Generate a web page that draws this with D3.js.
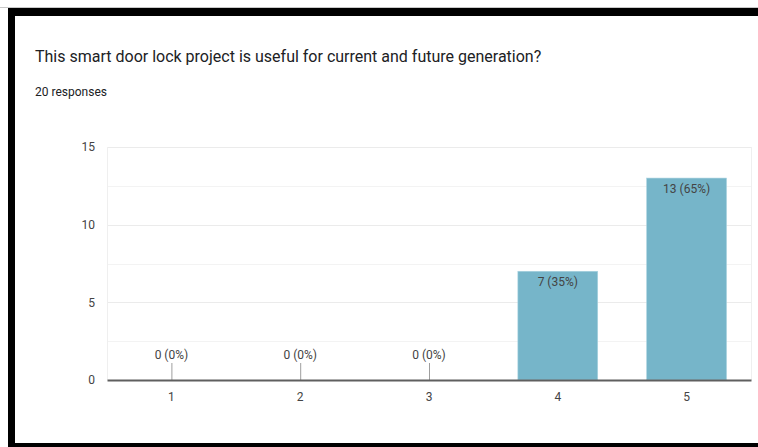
<!DOCTYPE html>
<html>
<head>
<meta charset="utf-8">
<script src="https://cdn.jsdelivr.net/npm/d3@7"></script>
<style>
  html, body { margin: 0; padding: 0; background: #fff; }
  svg { display: block; }
</style>
</head>
<body>
<svg id="chart" width="758" height="447"></svg>
<script>
// Survey answers on a 1–5 scale
const categories = ["1", "2", "3", "4", "5"];
const counts = [0, 0, 0, 7, 13];
const totalResponses = 20;
const yTicks = [0, 5, 10, 15];
const gridTicks = [0, 2.5, 5, 7.5, 10, 12.5, 15];

const title = "This smart door lock project is useful for current and future generation?";
const subtitle = totalResponses + " responses";

const svg = d3.select("#chart");
const W = 758, H = 447;
const font = "Roboto, 'Noto Sans', Arial, sans-serif";

svg.append("rect").attr("width", W).attr("height", H).attr("fill", "#fff");

// frame around the card
svg.append("rect").attr("x", 0).attr("y", 7).attr("width", W).attr("height", 1).attr("fill", "#c8c8c8");
svg.append("rect").attr("x", 8).attr("y", 8).attr("width", W - 8).attr("height", 8).attr("fill", "#000");
svg.append("rect").attr("x", 8).attr("y", 8).attr("width", 7).attr("height", H - 8).attr("fill", "#000");
svg.append("rect").attr("x", 8).attr("y", 443).attr("width", W - 8).attr("height", 4).attr("fill", "#000");

// header text
svg.append("text")
  .attr("x", 35).attr("y", 62)
  .attr("font-family", font).attr("font-size", 16)
  .attr("fill", "#202124")
  .text(title);
svg.append("text")
  .attr("x", 35).attr("y", 96)
  .attr("font-family", font).attr("font-size", 12)
  .attr("fill", "#202124")
  .text(subtitle);

// plot area
const plot = { left: 107, right: 751, top: 147, bottom: 380 };

const x = d3.scaleBand()
  .domain(categories)
  .range([plot.left, plot.right])
  .paddingInner(0.38)
  .paddingOuter(0.19);

const y = d3.scaleLinear()
  .domain([0, 15])
  .range([plot.bottom, plot.top]);

// gridlines
svg.append("g").selectAll("line")
  .data(gridTicks.filter(d => d > 0))
  .join("line")
  .attr("x1", plot.left).attr("x2", plot.right)
  .attr("y1", d => Math.round(y(d)) + 0.5).attr("y2", d => Math.round(y(d)) + 0.5)
  .attr("stroke", d => (d % 5 === 0 ? "#ebebeb" : "#f3f3f3"))
  .attr("stroke-width", 1);

// side edges of the plot area
svg.append("g").selectAll("line")
  .data([plot.left, plot.right])
  .join("line")
  .attr("x1", d => d + 0.5).attr("x2", d => d + 0.5)
  .attr("y1", plot.top).attr("y2", plot.bottom)
  .attr("stroke", "#efefef");

// y-axis labels
const yAxis = d3.axisLeft(y).tickValues(yTicks).tickSize(0).tickPadding(12);
const yg = svg.append("g").attr("transform", `translate(${plot.left},0)`).call(yAxis);
yg.select(".domain").remove();
yg.selectAll("text")
  .attr("font-family", font).attr("font-size", 12)
  .attr("fill", "#444");

// bars
const data = categories.map((c, i) => ({ cat: c, value: counts[i] }));
svg.append("g").selectAll("rect")
  .data(data.filter(d => d.value > 0))
  .join("rect")
  .attr("x", d => x(d.cat))
  .attr("y", d => y(d.value))
  .attr("width", x.bandwidth())
  .attr("height", d => y(0) - y(d.value))
  .attr("fill", "#76b5c9")
  .attr("stroke", "#a9d3e0")
  .attr("stroke-width", 0.6);

// value labels
const fmt = d => `${d.value} (${Math.round(d.value / totalResponses * 100)}%)`;
svg.append("g").selectAll("text")
  .data(data)
  .join("text")
  .attr("x", d => x(d.cat) + x.bandwidth() / 2)
  .attr("y", d => d.value > 0 ? y(d.value) + 15 : y(0) - 21)
  .attr("text-anchor", "middle")
  .attr("font-family", font).attr("font-size", 12)
  .attr("fill", "#444")
  .text(fmt);

// leader ticks for empty categories
svg.append("g").selectAll("line")
  .data(data.filter(d => d.value === 0))
  .join("line")
  .attr("x1", d => x(d.cat) + x.bandwidth() / 2 + 0.5)
  .attr("x2", d => x(d.cat) + x.bandwidth() / 2 + 0.5)
  .attr("y1", y(0) - 17).attr("y2", y(0))
  .attr("stroke", "#9e9e9e").attr("stroke-width", 1);

// x axis baseline and category labels
const xAxis = d3.axisBottom(x).tickSize(0).tickPadding(12);
const xg = svg.append("g").attr("transform", `translate(0,${plot.bottom})`).call(xAxis);
xg.select(".domain").attr("stroke", "#5f5f5f").attr("stroke-width", 2);
xg.selectAll("text")
  .attr("font-family", font).attr("font-size", 12)
  .attr("fill", "#444");
</script>
</body>
</html>
